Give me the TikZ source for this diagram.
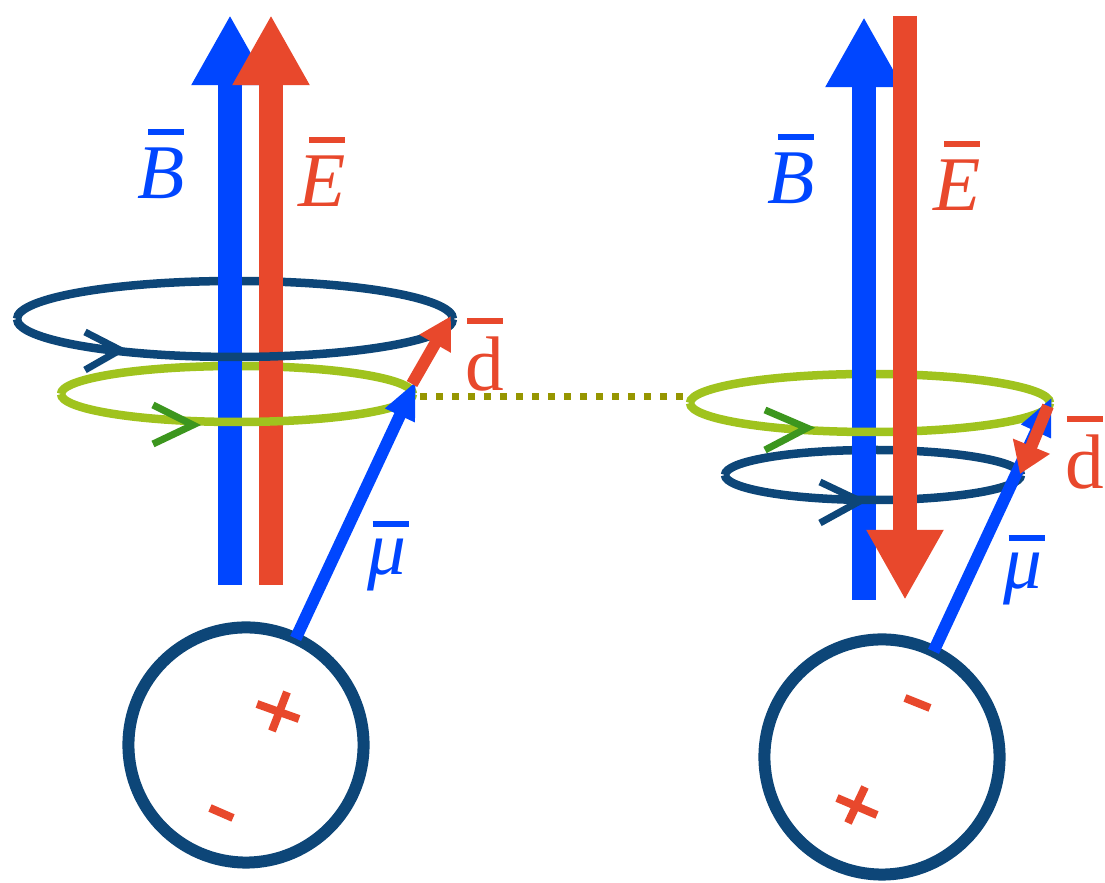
\documentclass[tikz,border=0pt]{standalone}
\usepackage{fontspec}
\setmainfont{Liberation Serif}
\usetikzlibrary{arrows.meta}
\definecolor{bblue}{RGB}{0,70,255}
\definecolor{ered}{RGB}{232,72,44}
\definecolor{navy}{RGB}{13,70,120}
\definecolor{lime}{RGB}{160,195,30}
\definecolor{leaf}{RGB}{60,150,30}
\definecolor{olive}{RGB}{150,150,0}
% letter with a detached bar over it
\newcommand{\barred}[2][0pt]{%
  \setbox0=\hbox{#2}%
  \vbox{\offinterlineskip\hbox to \wd0{\hss\kern#1\rule{0.36cm}{1.7pt}\hss}\kern3.6pt\box0}}

\begin{document}
\begin{tikzpicture}[x=0.01cm,y=-0.01cm,
field/.style={line width=0.245cm,-{Triangle[width=0.72cm,length=0.7cm]}},
ring/.style={line width=0.085cm},
chev/.style={line width=0.07cm},
spin/.style={bblue,line width=0.12cm,-{Triangle[width=0.3cm,length=0.38cm]}},
edm/.style={ered,line width=0.12cm,-{Triangle[width=0.34cm,length=0.32cm]}},
atom/.style={circle,draw=navy,line width=0.12cm,minimum size=2.35cm,inner sep=0pt,outer sep=0pt},
charge/.style={ered,line width=0.08cm},
lab/.style={font=\fontsize{22}{26}\selectfont,inner sep=0pt}]
\useasboundingbox (0,0) rectangle (1105,883);

%% left: E parallel to B
\coordinate (BbotL) at (230,585);
\coordinate (BtopL) at (230,15);
\coordinate (EbotL) at (271,585);
\coordinate (EtopL) at (271,15);
% back halves of the two orbits
\draw[ring,navy] (235,319) ++(-218,0) arc[start angle=180,end angle=360,x radius=218,y radius=38];
\draw[ring,lime] (237,394) ++(-176,0) arc[start angle=180,end angle=360,x radius=176,y radius=28];
\draw[field,bblue] (BbotL) -- (BtopL);
\draw[field,ered] (EbotL) -- (EtopL);
% front halves
\draw[ring,navy] (235,319) ++(218,0) arc[start angle=0,end angle=180,x radius=218,y radius=38];
\draw[ring,lime] (237,394) ++(176,0) arc[start angle=0,end angle=180,x radius=176,y radius=28];
\draw[chev,navy] (85,332) -- (120,350) -- (85,370);
\draw[chev,leaf] (153,405) -- (193,425) -- (153,444);

\node[atom] (atomL) at (246,745) {};
\coordinate (muL) at (416,381);
\coordinate (dL) at (451,316);
\draw[spin] (atomL.65) -- (muL);
\draw[edm] (412,384) -- (dL);

\draw[charge] (257,704) -- (299,719);
\draw[charge] (287,692) -- (272,731);
\draw[charge] (210,808) -- (233,818);

\node[lab,text=bblue] (BlabL) at (161,164) {\barred[3pt]{\textit{B}}};
\node[lab,text=ered] (ElabL) at (322,172) {\barred[3pt]{\textit{E}}};
\node[lab,text=ered] (dlabL) at (485,355) {\barred{d}};
\node[lab,text=bblue] (mulabL) at (387,556) {\barred[2pt]{\textit{μ}}};

% same precession frequency
\draw[olive,line width=0.07cm,dash pattern=on 0.07cm off 0.09cm] (420,397) -- (690,397);

%% right: E antiparallel to B
\coordinate (BbotR) at (864,600);
\coordinate (BtopR) at (864,17);
\coordinate (EtopR) at (905,16);
\coordinate (EbotR) at (905,600);
\draw[ring,lime] (870,403) ++(-180,0) arc[start angle=180,end angle=360,x radius=180,y radius=29];
\draw[ring,navy] (873,475) ++(-148,0) arc[start angle=180,end angle=360,x radius=148,y radius=25];
\draw[field,bblue] (BbotR) -- (BtopR);
\draw[ring,lime] (870,403) ++(180,0) arc[start angle=0,end angle=180,x radius=180,y radius=29];
\draw[ring,navy] (873,475) ++(148,0) arc[start angle=0,end angle=180,x radius=148,y radius=25];
\draw[chev,leaf] (765,410) -- (807,428) -- (765,450);
\draw[chev,navy] (820,482) -- (860,501) -- (820,523);
\draw[field,ered] (EtopR) -- (EbotR);

\node[atom] (atomR) at (882,757) {};
\coordinate (muR) at (1052,397);
\coordinate (dR) at (1020,474);
\draw[spin] (atomR.64) -- (muR);
\draw[edm,-{Triangle[width=0.38cm,length=0.3cm]}] (1048,406) -- (dR);

\draw[charge] (905,698) -- (930,708);
\draw[charge] (837,798) -- (877,815);
\draw[charge] (865,787) -- (848,823);

\node[lab,text=bblue] (BlabR) at (791,169) {\barred[3pt]{\textit{B}}};
\node[lab,text=ered] (ElabR) at (957,176) {\barred[3pt]{\textit{E}}};
\node[lab,text=ered] (dlabR) at (1085,453) {\barred{d}};
\node[lab,text=bblue] (mulabR) at (1023,570) {\barred[2pt]{\textit{μ}}};
\end{tikzpicture}
\end{document}
